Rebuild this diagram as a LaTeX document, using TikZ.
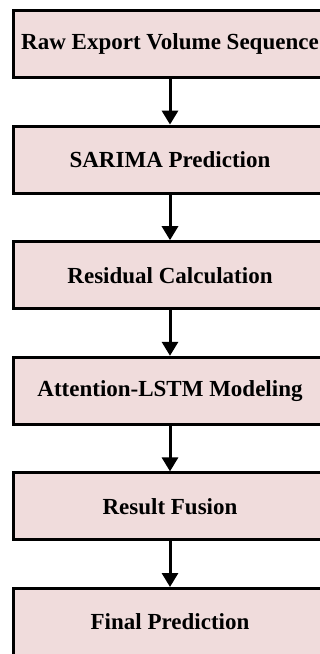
\documentclass[tikz,border=0pt]{standalone}
\usepackage{fontspec}
\setmainfont{Liberation Serif}
\usetikzlibrary{arrows.meta}
\definecolor{boxfill}{RGB}{240,220,220}
\tikzset{
  stepbox/.style={draw=black, fill=boxfill, line width=3pt, minimum width=313pt, minimum height=67pt, inner sep=0pt, font=\fontsize{23}{27}\selectfont\bfseries},
  flow/.style={line width=3pt, -{Triangle[width=16pt,length=14pt]}}
}
\begin{document}
\begin{tikzpicture}[x=1pt,y=-1pt]
\useasboundingbox (0,0) rectangle (320,654);
\clip (0,0) rectangle (320,654);
\node[stepbox] (a) at (170,44) {Raw Export Volume Sequence};
\node[stepbox] (b) at (170,159.6) {SARIMA Prediction};
\node[stepbox] (c) at (170,275.2) {Residual Calculation};
\node[stepbox] (d) at (170,390.8) {Attention-LSTM Modeling};
\node[stepbox] (e) at (170,506.4) {Result Fusion};
\node[stepbox] (f) at (170,622) {Final Prediction};
\draw[flow] (a.south) -- (b.north);
\draw[flow] (b.south) -- (c.north);
\draw[flow] (c.south) -- (d.north);
\draw[flow] (d.south) -- (e.north);
\draw[flow] (e.south) -- (f.north);
\end{tikzpicture}
\end{document}
